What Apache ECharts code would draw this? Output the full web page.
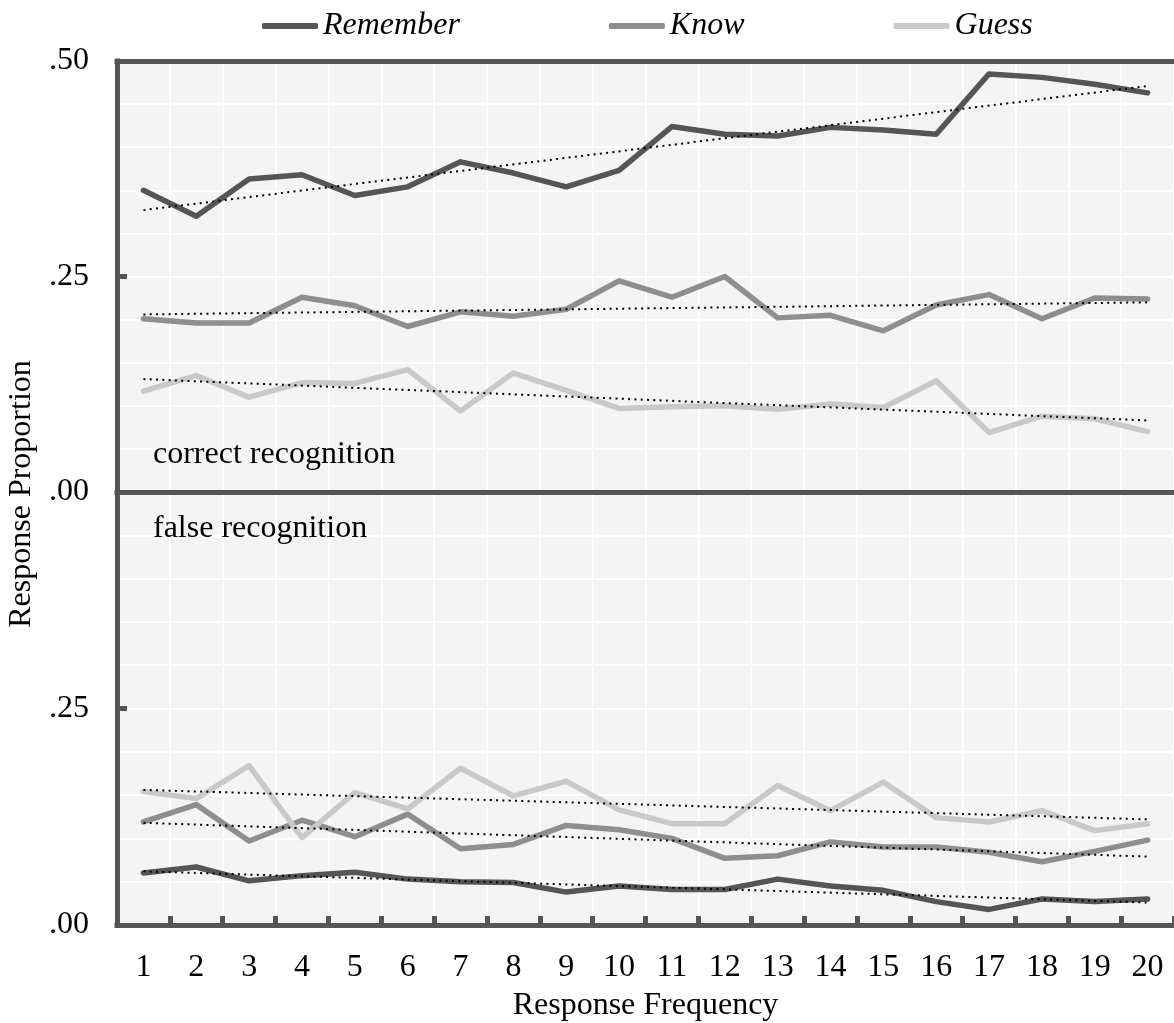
<!DOCTYPE html>
<html>
<head>
<meta charset="utf-8">
<script src="https://cdn.jsdelivr.net/npm/echarts@6/dist/echarts.min.js"></script>
<style>
  html, body { margin: 0; padding: 0; background: #fff; }
  #chart { width: 1174px; height: 1023px; }
</style>
</head>
<body>
<div id="chart"></div>
<script>
// ---- Data ----
const categories = ['1','2','3','4','5','6','7','8','9','10','11','12','13','14','15','16','17','18','19','20'];
const seriesNames = ['Remember', 'Know', 'Guess'];
const yTickValues = [0, 0.25, 0.5];

// correct recognition panel
const correctRemember = [0.350, 0.320, 0.363, 0.368, 0.344, 0.354, 0.383, 0.370, 0.354, 0.373, 0.424, 0.415, 0.413, 0.423, 0.420, 0.415, 0.485, 0.481, 0.473, 0.463];
const correctKnow     = [0.201, 0.196, 0.196, 0.226, 0.216, 0.192, 0.209, 0.204, 0.212, 0.245, 0.226, 0.250, 0.202, 0.205, 0.187, 0.217, 0.229, 0.201, 0.225, 0.224];
const correctGuess    = [0.117, 0.135, 0.110, 0.127, 0.126, 0.142, 0.094, 0.138, 0.118, 0.097, 0.099, 0.100, 0.096, 0.102, 0.098, 0.129, 0.069, 0.088, 0.085, 0.070];

// false recognition panel
const falseRemember = [0.060, 0.067, 0.051, 0.057, 0.061, 0.053, 0.050, 0.049, 0.038, 0.045, 0.041, 0.041, 0.053, 0.045, 0.040, 0.027, 0.018, 0.030, 0.027, 0.030];
const falseKnow     = [0.119, 0.139, 0.097, 0.121, 0.102, 0.128, 0.088, 0.093, 0.115, 0.110, 0.100, 0.077, 0.080, 0.096, 0.090, 0.090, 0.084, 0.073, 0.085, 0.098];
const falseGuess    = [0.154, 0.146, 0.184, 0.101, 0.153, 0.134, 0.181, 0.149, 0.166, 0.133, 0.117, 0.117, 0.161, 0.132, 0.165, 0.124, 0.119, 0.132, 0.109, 0.117];

// linear trend lines: [value at 1, value at 20]
const trendCorrectRemember = [0.327, 0.471];
const trendCorrectKnow     = [0.206, 0.220];
const trendCorrectGuess    = [0.131, 0.083];
const trendFalseRemember   = [0.062, 0.026];
const trendFalseKnow       = [0.118, 0.079];
const trendFalseGuess      = [0.156, 0.122];

// ---- Styling ----
const FONT = '"Liberation Serif", "Times New Roman", serif';
const AXIS = '#555555';
const colors = { Remember: '#555555', Know: '#8e8e8e', Guess: '#c9c9c9' };

function fmt(v) { return v.toFixed(2).replace(/^0/, ''); }

function yAxisDef(gi, hideTop) {
  return {
    gridIndex: gi, type: 'value', min: 0, max: 0.5, interval: 0.25,
    axisLine: { show: true, lineStyle: { color: AXIS, width: 5, cap: 'square' } },
    axisTick: { show: true, inside: true, length: 10, lineStyle: { color: AXIS, width: 5 } },
    axisLabel: {
      fontSize: 32, color: '#000', fontFamily: FONT, margin: 28,
      formatter: function (v) {
        if (yTickValues.indexOf(v) < 0) return '';
        if (hideTop && v === 0.5) return '';
        return fmt(v);
      }
    },
    splitLine: { show: true, lineStyle: { color: '#ffffff', width: 2 } },
    minorTick: { show: false, splitNumber: 5 },
    minorSplitLine: { show: true, lineStyle: { color: '#ffffff', width: 2 } }
  };
}

function lineSeries(name, gi, data) {
  return {
    name: name, type: 'line', xAxisIndex: gi === 0 ? 0 : 2, yAxisIndex: gi,
    data: data, symbol: 'none', silent: true, z: 3,
    lineStyle: { color: colors[name], width: 5.5, cap: 'round', join: 'round' },
    itemStyle: { color: colors[name] }
  };
}
function trendSeries(name, gi, t) {
  return {
    name: name + ' trend', type: 'line', xAxisIndex: gi === 0 ? 0 : 2, yAxisIndex: gi,
    data: [[categories[0], t[0]], [categories[categories.length - 1], t[1]]],
    symbol: 'none', silent: true, z: 5,
    lineStyle: { color: '#000', width: 2, type: [2, 4.3] }
  };
}

const chart = echarts.init(document.getElementById('chart'), null, { renderer: 'canvas' });
const option = {
  animation: false,
  backgroundColor: '#ffffff',
  textStyle: { fontFamily: FONT },
  legend: {
    data: seriesNames, left: 257, top: 5,
    itemWidth: 56, itemHeight: 6, itemGap: 149, icon: 'roundRect',
    textStyle: { fontSize: 32, fontStyle: 'italic', color: '#000', fontFamily: FONT }
  },
  grid: [
    { left: 117, top: 61, width: 1061, height: 431, show: true, backgroundColor: '#f4f4f4', borderWidth: 0 },
    { left: 117, top: 492, width: 1061, height: 434, show: true, backgroundColor: '#f4f4f4', borderWidth: 0 }
  ],
  xAxis: [
    { gridIndex: 0, type: 'category', data: categories, position: 'bottom',
      axisLine: { lineStyle: { color: AXIS, width: 5, cap: 'square' } },
      axisTick: { show: false }, axisLabel: { show: false },
      splitLine: { show: true, interval: 0, lineStyle: { color: '#ffffff', width: 2 } } },
    { gridIndex: 0, type: 'category', data: categories, position: 'top',
      axisLine: { lineStyle: { color: AXIS, width: 5, cap: 'square' } },
      axisTick: { show: false }, axisLabel: { show: false }, splitLine: { show: false } },
    { gridIndex: 1, type: 'category', data: categories, position: 'bottom',
      axisLine: { lineStyle: { color: AXIS, width: 5, cap: 'square' } },
      axisTick: { show: true, inside: true, interval: 0, length: 9, lineStyle: { color: AXIS, width: 5 } },
      axisLabel: { interval: 0, fontSize: 32, color: '#000', fontFamily: FONT, margin: 27 },
      splitLine: { show: true, interval: 0, lineStyle: { color: '#ffffff', width: 2 } },
      name: 'Response Frequency', nameLocation: 'middle', nameGap: 65,
      nameTextStyle: { fontSize: 32, color: '#000', fontFamily: FONT } }
  ],
  yAxis: [ yAxisDef(0, false), yAxisDef(1, true) ],
  graphic: [
    { type: 'text', x: 22, y: 494, rotation: Math.PI / 2,
      style: { text: 'Response Proportion', font: '32px ' + FONT, fill: '#000', align: 'center', verticalAlign: 'middle' } },
    { type: 'text', x: 153, y: 455, z: 10,
      style: { text: 'correct recognition', font: '32px ' + FONT, fill: '#000', align: 'left', verticalAlign: 'middle' } },
    { type: 'text', x: 153, y: 529, z: 10,
      style: { text: 'false recognition', font: '32px ' + FONT, fill: '#000', align: 'left', verticalAlign: 'middle' } }
  ],
  series: [
    lineSeries('Remember', 0, correctRemember),
    lineSeries('Know', 0, correctKnow),
    lineSeries('Guess', 0, correctGuess),
    lineSeries('Remember', 1, falseRemember),
    lineSeries('Know', 1, falseKnow),
    lineSeries('Guess', 1, falseGuess),
    trendSeries('Remember', 0, trendCorrectRemember),
    trendSeries('Know', 0, trendCorrectKnow),
    trendSeries('Guess', 0, trendCorrectGuess),
    trendSeries('Remember', 1, trendFalseRemember),
    trendSeries('Know', 1, trendFalseKnow),
    trendSeries('Guess', 1, trendFalseGuess)
  ]
};
chart.setOption(option);
</script>
</body>
</html>
